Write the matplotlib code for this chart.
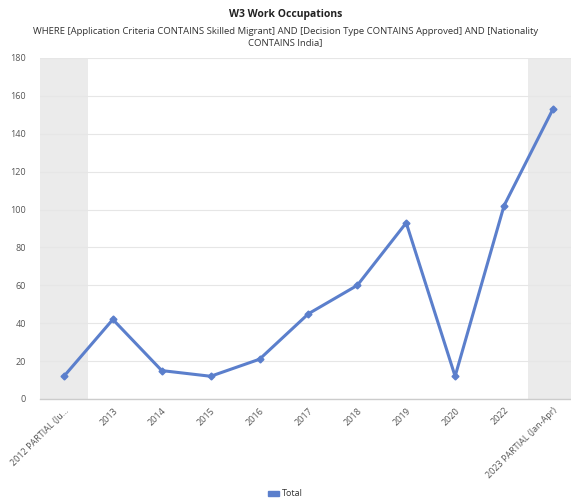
import matplotlib
matplotlib.use("Agg")
import matplotlib.pyplot as plt
from matplotlib.patches import Patch

plt.rcParams['font.family'] = ['Open Sans', 'DejaVu Sans']

# data
categories = ['2012 PARTIAL (Ju...', '2013', '2014', '2015', '2016', '2017',
              '2018', '2019', '2020', '2022', '2023 PARTIAL (Jan-Apr)']
totals = [12, 42, 15, 12, 21, 45, 60, 93, 12, 102, 153]
yticks = [0, 20, 40, 60, 80, 100, 120, 140, 160, 180]
line_color = '#5b7fcc'

W, H = 571, 504
fig = plt.figure(figsize=(W / 100, H / 100), dpi=100)
ax = fig.add_axes([40 / W, (H - 399) / H, (571 - 40) / W, (399 - 58) / H])

x = list(range(len(categories)))

# partial-year shading
ax.axvspan(-0.5, 0.5, color='#ebebeb', zorder=0, lw=0)
ax.axvspan(len(x) - 1.5, len(x) - 0.5, color='#ebebeb', zorder=0, lw=0)

ax.plot(x, totals, color=line_color, lw=2.2, marker='D', markersize=3.5,
        zorder=3, clip_on=False)

ax.set_xlim(-0.49, 10.37)
ax.set_ylim(0, 180)
ax.set_yticks(yticks)
ax.set_yticklabels([str(v) for v in yticks], fontsize=6.5, color='#555555')
ax.set_xticks(x)
ax.set_xticklabels(categories, rotation=45, ha='right', rotation_mode='anchor',
                   fontsize=6.5, color='#555555')
ax.tick_params(axis='both', length=0, pad=5)
ax.tick_params(axis='y', pad=10)
ax.grid(axis='y', color='#e6e6e6', lw=0.8, zorder=1)
for s in ['top', 'right', 'left']:
    ax.spines[s].set_visible(False)
ax.spines['bottom'].set_color('#cccccc')
ax.spines['bottom'].set_linewidth(1)

fig.text(0.5, 1 - 14 / H, 'W3 Work Occupations', ha='center', va='center',
         fontsize=7.5, fontweight='bold', color='#222222')
fig.text(0.5, 1 - 37 / H,
         'WHERE [Application Criteria CONTAINS Skilled Migrant] AND [Decision Type CONTAINS Approved] AND [Nationality\nCONTAINS India]',
         ha='center', va='center', fontsize=6.8, color='#333333', linespacing=1.35)

handle = Patch(color=line_color, label='Total')
fig.legend(handles=[handle], loc='center', bbox_to_anchor=(0.5, 1 - 494 / H),
           frameon=False, fontsize=6.5, handlelength=1.2, handleheight=0.5,
           handletextpad=0.4, labelcolor='#333333')

fig.savefig('out.png', dpi=100)
